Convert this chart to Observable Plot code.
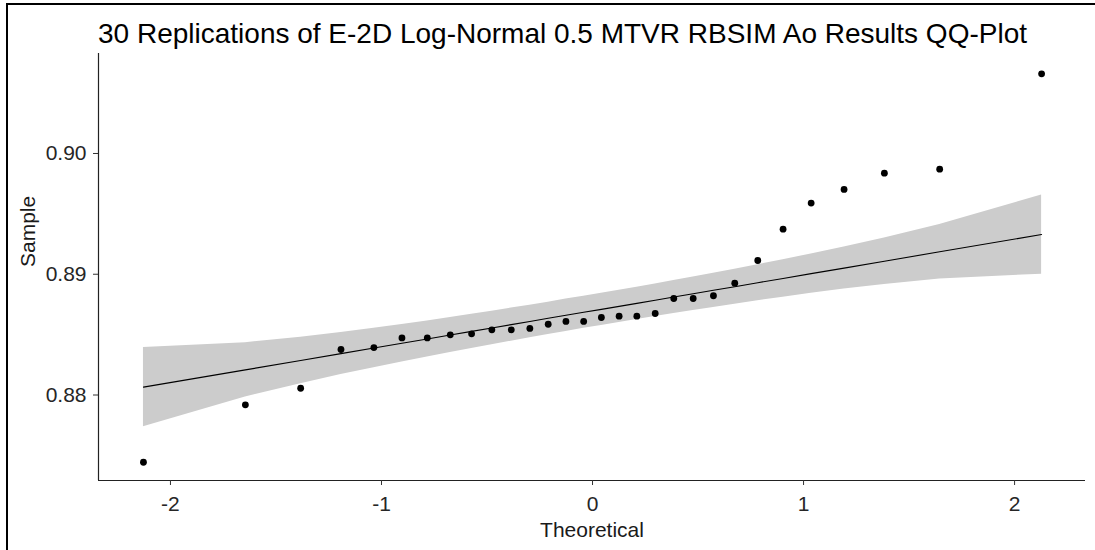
<!DOCTYPE html>
<html>
<head>
<meta charset="utf-8">
<script src="https://cdn.jsdelivr.net/npm/d3@7"></script>
<script src="https://cdn.jsdelivr.net/npm/@observablehq/plot@0.6"></script>
<style>
  html, body { margin: 0; padding: 0; background: #fff; }
  #wrap { position: relative; width: 1095px; height: 550px; overflow: hidden; background: #fff; }
  #frame { position: absolute; left: 6px; top: 3px; width: 1200px; height: 600px;
           border-top: 2px solid #000; border-left: 2px solid #000; }
  #title { position: absolute; left: 98px; top: 20px; font-family: "Liberation Sans", Arial, sans-serif;
           font-size: 28px; line-height: 28px; color: #000; white-space: nowrap; }
  #chart { position: absolute; left: 0; top: 45px; }
</style>
</head>
<body>
<div id="wrap">
  <div id="frame"></div>
  <div id="title">30 Replications of E-2D Log-Normal 0.5 MTVR RBSIM Ao Results QQ-Plot</div>
  <div id="chart"></div>
</div>
<script>
const theoretical = [-2.128, -1.645, -1.383, -1.192, -1.036, -0.903, -0.783, -0.674, -0.573, -0.477,
  -0.385, -0.297, -0.210, -0.126, -0.042, 0.042, 0.126, 0.210, 0.297, 0.385,
  0.477, 0.573, 0.674, 0.783, 0.903, 1.036, 1.192, 1.383, 1.645, 2.128];
const sample = [0.87443, 0.87919, 0.88056, 0.88377, 0.88393, 0.88473, 0.88473, 0.88498, 0.88507, 0.88540,
  0.88540, 0.88551, 0.88586, 0.88609, 0.88609, 0.88642, 0.88653, 0.88653, 0.88675, 0.88799,
  0.88799, 0.88822, 0.88926, 0.89114, 0.89373, 0.89589, 0.89702, 0.89837, 0.89870, 0.90660];
const fitted = [0.88065, 0.88208, 0.88286, 0.88343, 0.88389, 0.88429, 0.88464, 0.88497, 0.88527, 0.88555,
  0.88583, 0.88609, 0.88635, 0.88660, 0.88685, 0.88709, 0.88734, 0.88759, 0.88785, 0.88811,
  0.88839, 0.88867, 0.88897, 0.88930, 0.88965, 0.89005, 0.89051, 0.89108, 0.89186, 0.89329];
const bandLower = [0.87737, 0.87983, 0.88094, 0.88169, 0.88226, 0.88274, 0.88315, 0.88352, 0.88385, 0.88416,
  0.88446, 0.88474, 0.88501, 0.88526, 0.88552, 0.88576, 0.88600, 0.88625, 0.88650, 0.88674,
  0.88700, 0.88725, 0.88752, 0.88781, 0.88810, 0.88842, 0.88877, 0.88916, 0.88961, 0.89001];
const bandUpper = [0.88393, 0.88433, 0.88478, 0.88517, 0.88552, 0.88584, 0.88613, 0.88642, 0.88669, 0.88694,
  0.88720, 0.88744, 0.88769, 0.88794, 0.88818, 0.88842, 0.88868, 0.88893, 0.88920, 0.88948,
  0.88978, 0.89009, 0.89042, 0.89079, 0.89120, 0.89168, 0.89225, 0.89300, 0.89411, 0.89657];
const xTicks = [-2, -1, 0, 1, 2];
const yTicks = [0.88, 0.89, 0.90];
const xDomain = [-2.341, 2.336];
const yDomain = [0.87292, 0.90828];

const data = theoretical.map((t, i) => ({
  t, s: sample[i], f: fitted[i], lo: bandLower[i], hi: bandUpper[i]
}));

const plot = Plot.plot({
  width: 1095,
  height: 505,
  marginTop: 8,
  marginBottom: 70,
  marginLeft: 98,
  marginRight: 10,
  style: { fontFamily: "Liberation Sans, Arial, sans-serif", fontSize: "21px", color: "#333", background: "transparent" },
  x: { domain: xDomain },
  y: { domain: yDomain },
  marks: [
    Plot.areaY(data, { x: "t", y1: "lo", y2: "hi", fill: "#cccccc" }),
    Plot.line(data, { x: "t", y: "f", stroke: "#000", strokeWidth: 1.1 }),
    Plot.dot(data, { x: "t", y: "s", r: 3.4, fill: "#000" }),
    Plot.ruleY([yDomain[0]], { stroke: "#222", strokeWidth: 1.2 }),
    Plot.ruleX([xDomain[0]], { stroke: "#222", strokeWidth: 1.2 }),
    Plot.axisX({ ticks: xTicks, tickSize: 5, tickPadding: 11, tickFormat: d => String(d), label: null, fill: "#262626", stroke: "#333" }),
    Plot.axisY({ ticks: yTicks, tickSize: 5, tickPadding: 7, tickFormat: d3.format(".2f"), label: null, fill: "#262626", stroke: "#333" }),
    Plot.text(["Theoretical"], { frameAnchor: "bottom", lineAnchor: "top", dy: 42, fill: "#1a1a1a", fontSize: 21 }),
    Plot.text(["Sample"], { frameAnchor: "left", rotate: -90, dx: -70, fill: "#1a1a1a", fontSize: 21 })
  ]
});
document.getElementById("chart").appendChild(plot);
</script>
</body>
</html>
